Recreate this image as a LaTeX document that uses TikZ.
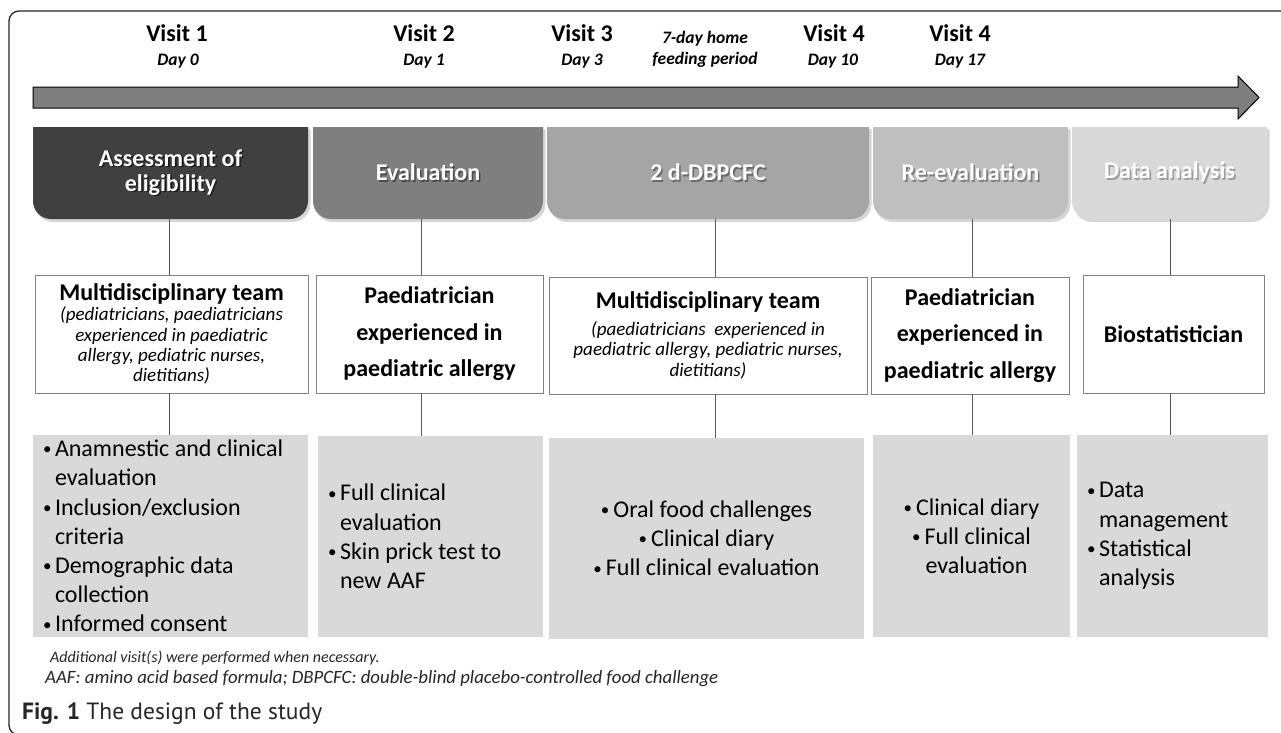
\documentclass[tikz,border=0pt]{standalone}
\usepackage{fontspec}
\setmainfont{Carlito}
\newfontfamily\captionfamily{PT Sans}

\definecolor{phaseA}{HTML}{404040}
\definecolor{phaseB}{HTML}{7F7F7F}
\definecolor{phaseC}{HTML}{A5A5A5}
\definecolor{phaseD}{HTML}{BFBFBF}
\definecolor{phaseE}{HTML}{D9D9D9}
\definecolor{cellgray}{HTML}{D9D9D9}
\definecolor{linkblue}{HTML}{44546A}
\definecolor{linkgray}{HTML}{595959}
\definecolor{notegray}{HTML}{262626}

% white heading text with a small dark offset copy underneath
\newcommand\shtxt[2]{\makebox[0pt][l]{\hspace{1.6pt}\raisebox{-1.6pt}{\textcolor{#1}{#2}}}#2}
% small bullet, bullet with hanging indent, continuation indent
\newcommand\sbul{\raisebox{1.8pt}{\fontsize{17}{17}\selectfont\textbullet}}
\newcommand\itm{\makebox[12pt][l]{\sbul}}
\newcommand\cont{\hspace*{12pt}}

% phase heading: name, left x, right x, fill, text
\newcommand\phasebox[5]{%
  \fill[black, opacity=0.16, rounded corners=18pt]
    (#2+2,150) -- (#2+2,222) -- (#3+2.5,222) -- (#3+2.5,150) [sharp corners] -- (#3+2.5,129) -- (#2+2,129) -- cycle;
  \fill[#4, rounded corners=18pt]
    (#2,150) -- (#2,219) -- (#3,219) -- (#3,150) [sharp corners] -- (#3,127) -- (#2,127) -- cycle;
  \node[phasetext, minimum width={(#3-#2)*1pt}, minimum height=92pt] (#1) at ({(#2+#3)/2},173) {#5};
}

\begin{document}
\begin{tikzpicture}[x=1pt,y=-1pt,
  visit/.style={font=\fontsize{24}{28}\selectfont\bfseries, anchor=base, inner sep=0},
  day/.style={font=\fontsize{17.5}{20}\selectfont\bfseries\itshape, anchor=base, inner sep=0},
  phasetext/.style={font=\fontsize{24}{25}\selectfont\bfseries, text=white, align=center, inner sep=0},
  team/.style={draw=black!50, line width=0.9pt, fill=white, inner sep=0, align=center},
  cell/.style={fill=cellgray, inner sep=0, font=\fontsize{24}{29.2}\selectfont},
  link/.style={line width=0.8pt},
  note/.style={text=notegray, anchor=base west, inner sep=0}]

\useasboundingbox (0,0) rectangle (1281,732);
\clip (0,0) rectangle (1281,732);
\fill[white] (0,0) rectangle (1281,732);

% outer frame, open to the right
\draw[line width=1.3pt, black!85, rounded corners=10pt] (1300,11) -- (9,11) -- (9,735) -- (60,735);

% time line arrow
\filldraw[fill=phaseB, draw=black, line width=1pt]
  (33,87) -- (1238,87) -- (1238,76) -- (1259,97.5) -- (1238,119) -- (1238,108) -- (33,108) -- cycle;

% visits and days
\node[visit] (v1) at (177,41) {Visit 1};
\node[day]   (d1) at (178,65) {Day 0};
\node[visit] (v2) at (424,41) {Visit 2};
\node[day]   (d2) at (424,65) {Day 1};
\node[visit] (v3) at (582,41) {Visit 3};
\node[day]   (d3) at (582,65) {Day 3};
\node[day]   (hf1) at (705,43) {7-day home};
\node[day]   (hf2) at (705,64) {feeding period};
\node[visit] (v4) at (834,41) {Visit 4};
\node[day]   (d4) at (833,65) {Day 10};
\node[visit] (v5) at (960,41) {Visit 4};
\node[day]   (d5) at (960,65) {Day 17};

% phase headings
\phasebox{h1}{33}{308}{phaseA}{\shtxt{black!90}{Assessment of}\\\shtxt{black!90}{eligibility}}
\phasebox{h2}{313}{543}{phaseB}{\shtxt{black!70}{Evaluation}}
\phasebox{h3}{547}{869}{phaseC}{\shtxt{black!58}{2 d-DBPCFC}}
\phasebox{h4}{873}{1068}{phaseD}{\shtxt{black!50}{Re-evaluation}}
\phasebox{h5}{1072}{1267}{phaseE}{\shtxt{black!38}{Data analysis}}

% staff boxes
\node[team, minimum width=273pt, minimum height=118pt, font=\fontsize{19}{20.3}\selectfont\itshape] (m1) at (171.5,334)
  {{\fontsize{24}{20.3}\selectfont\bfseries\upshape Multidisciplinary team}\\
   (pediatricians, paediatricians\\ experienced in paediatric\\ allergy, pediatric nurses,\\ dietitians)};
\node[team, minimum width=227pt, minimum height=118pt, font=\fontsize{24}{36.5}\selectfont\bfseries] (m2) at (429.5,334)
  {Paediatrician\\experienced in\\paediatric allergy};
\node[team, minimum width=318pt, minimum height=117pt, font=\fontsize{19}{20.5}\selectfont\itshape] (m3) at (708,335.5)
  {{\fontsize{24}{20.5}\selectfont\bfseries\upshape Multidisciplinary team}\\[6pt]
   (paediatricians\ \ experienced in\\ paediatric allergy, pediatric nurses,\\ dietitians)};
\node[team, minimum width=198pt, minimum height=117pt, font=\fontsize{24}{36.5}\selectfont\bfseries] (m4) at (970,335.5)
  {Paediatrician\\experienced in\\paediatric allergy};
\node[team, minimum width=181pt, minimum height=118pt, font=\fontsize{24}{28}\selectfont\bfseries] (m5) at (1173.5,334)
  {Biostatistician};

% activity boxes
\node[cell, minimum width=275pt, minimum height=202pt, text width=255pt, inner xsep=10pt, align=flush left] (b1) at (170.5,536)
  {\itm Anamnestic and clinical\\\cont evaluation\\\itm Inclusion/exclusion\\\cont criteria\\
   \itm Demographic data\\\cont collection\\\itm Informed consent};
\node[cell, minimum width=225pt, minimum height=201pt, text width=205pt, inner xsep=10pt, align=flush left] (b2) at (430.5,536.5)
  {\itm Full clinical\\\cont evaluation\\\itm Skin prick test to\\\cont new AAF};
\node[cell, minimum width=315pt, minimum height=201pt, align=center] (b3) at (706.5,538.5)
  {\sbul\,Oral food challenges\\\sbul\,Clinical diary\\\sbul\,Full clinical evaluation};
\node[cell, minimum width=197pt, minimum height=202pt, align=center] (b4) at (971.5,536)
  {\sbul\,Clinical diary\\\sbul\,Full clinical\\\hspace*{10pt}evaluation};
\node[cell, minimum width=191pt, minimum height=202pt, text width=171pt, inner xsep=10pt, align=flush left] (b5) at (1172.5,536)
  {\itm Data\\\cont management\\\itm Statistical\\\cont analysis};

% connectors
\draw[link, linkblue] ([xshift=-1.5pt]h1.south) -- ([xshift=-1.5pt]h1.south |- m1.north);
\draw[link, linkblue] ([xshift=-2.5pt]m1.south) -- ([xshift=-2.5pt]m1.south |- b1.north);
\draw[link, linkgray] ([xshift=-7pt]h2.south) -- ([xshift=-7pt]h2.south |- m2.north);
\draw[link, linkgray] ([xshift=-8.5pt]m2.south) -- ([xshift=-8.5pt]m2.south |- b2.north);
\draw[link, linkgray] ([xshift=7pt]h3.south) -- ([xshift=7pt]h3.south |- m3.north);
\draw[link, linkgray] ([xshift=7pt]m3.south) -- ([xshift=7pt]m3.south |- b3.north);
\draw[link, linkgray] ([xshift=1.5pt]h4.south) -- ([xshift=1.5pt]h4.south |- m4.north);
\draw[link, linkgray] ([xshift=2pt]m4.south) -- ([xshift=2pt]m4.south |- b4.north);
\draw[link, linkblue] ([xshift=0.5pt]h5.south) -- ([xshift=0.5pt]h5.south |- m5.north);
\draw[link, linkblue] ([xshift=-3.5pt]m5.south) -- ([xshift=-3.5pt]m5.south |- b5.north);

% notes and caption
\node[note, font=\fontsize{16}{19}\selectfont\itshape] (n1) at (50,662) {Additional visit(s) were performed when necessary.};
\node[note, font=\fontsize{18.8}{21}\selectfont\itshape] (n2) at (45,683) {AAF: amino acid based formula; DBPCFC: double-blind placebo-controlled food challenge};
\node[anchor=base west, inner sep=0, font=\captionfamily\fontsize{23.5}{26}\selectfont, text=black!85] (cap) at (22,719)
  {\textbf{Fig. 1} The design of the study};

\end{tikzpicture}
\end{document}
